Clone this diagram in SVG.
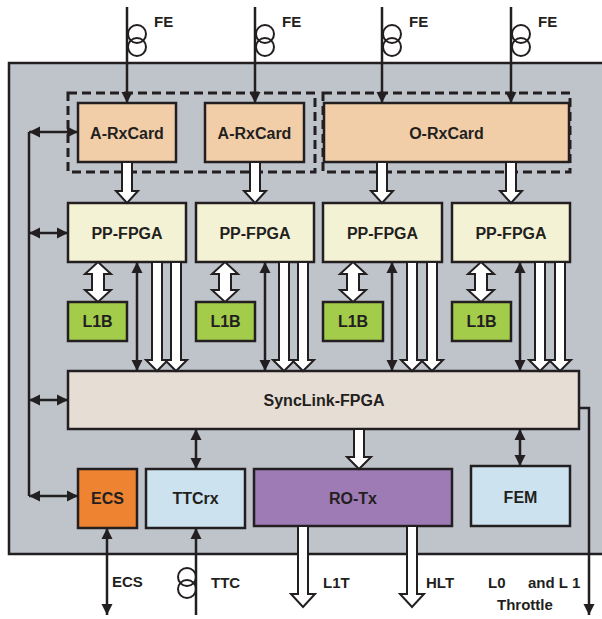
<svg xmlns="http://www.w3.org/2000/svg" width="602" height="619" viewBox="0 0 602 619">
<style>
.box{stroke:#231f20;stroke-width:2.5}
.t{font-family:"Liberation Sans",Arial,sans-serif;font-weight:bold;font-size:16px;fill:#231f20;text-anchor:middle}
.lbl{font-family:"Liberation Sans",Arial,sans-serif;font-weight:bold;font-size:15px;fill:#231f20}
.ln{stroke:#231f20;stroke-width:2.5;fill:none}
.hol{fill:#fff;stroke:#231f20;stroke-width:2;stroke-linejoin:miter}
.coil{fill:none;stroke:#231f20;stroke-width:2}
.dash{fill:none;stroke:#231f20;stroke-width:3;stroke-dasharray:9 5}
</style>
<defs>
<marker id="ah" markerUnits="userSpaceOnUse" markerWidth="12" markerHeight="12" refX="11" refY="6" orient="auto-start-reverse">
<path d="M0,0.5 L11,6 L0,11.5 z" fill="#231f20"/>
</marker>
</defs>
<rect x="9" y="63" width="600" height="491" fill="#bfc4cb" stroke="#231f20" stroke-width="2.5"/>
<rect class="dash" x="68" y="93" width="247" height="79"/>
<rect class="dash" x="323" y="93" width="247" height="79"/>

<g id="arx1"><rect class="box" x="78" y="103" width="98" height="59" fill="#f2cea8"/><text class="t" x="127" y="139">A-RxCard</text></g>
<g id="arx2"><rect class="box" x="205" y="103" width="99" height="59" fill="#f2cea8"/><text class="t" x="254.5" y="139">A-RxCard</text></g>
<g id="orx"><rect class="box" x="324" y="103" width="245" height="59" fill="#f2cea8"/><text class="t" x="446.5" y="139">O-RxCard</text></g>

<g id="pp1"><rect class="box" x="68" y="203" width="118" height="59" fill="#f4f2d4"/><text class="t" x="127" y="239">PP-FPGA</text></g>
<g id="pp2"><rect class="box" x="196" y="203" width="118" height="59" fill="#f4f2d4"/><text class="t" x="255" y="239">PP-FPGA</text></g>
<g id="pp3"><rect class="box" x="323" y="203" width="119" height="59" fill="#f4f2d4"/><text class="t" x="382.5" y="239">PP-FPGA</text></g>
<g id="pp4"><rect class="box" x="452" y="203" width="118" height="59" fill="#f4f2d4"/><text class="t" x="511" y="239">PP-FPGA</text></g>

<g id="l1b1"><rect class="box" x="68" y="302" width="59" height="39" fill="#a3cc4b"/><text class="t" x="97.5" y="327">L1B</text></g>
<g id="l1b2"><rect class="box" x="196" y="302" width="59" height="39" fill="#a3cc4b"/><text class="t" x="225.5" y="327">L1B</text></g>
<g id="l1b3"><rect class="box" x="323" y="302" width="60" height="39" fill="#a3cc4b"/><text class="t" x="353" y="327">L1B</text></g>
<g id="l1b4"><rect class="box" x="452" y="302" width="59" height="39" fill="#a3cc4b"/><text class="t" x="481.5" y="327">L1B</text></g>

<g id="sync"><rect class="box" x="68" y="371" width="511" height="58" fill="#e6ddd4"/><text class="t" x="324" y="406">SyncLink-FPGA</text></g>

<g id="ecs"><rect class="box" x="78" y="469" width="59" height="59" fill="#ee8431"/><text class="t" x="107.5" y="504">ECS</text></g>
<g id="ttcrx"><rect class="box" x="146" y="469" width="99" height="59" fill="#cce2ef"/><text class="t" x="195.5" y="504">TTCrx</text></g>
<g id="rotx"><rect class="box" x="254" y="469" width="198" height="57" fill="#9e7bb5"/><text class="t" x="353" y="504">RO-Tx</text></g>
<g id="fem"><rect class="box" x="471" y="466" width="99" height="60" fill="#cce2ef"/><text class="t" x="520.5" y="503">FEM</text></g>

<g id="connectors">
<!-- FE inputs -->
<line class="ln" x1="127" y1="7" x2="127" y2="103" marker-end="url(#ah)"/>
<line class="ln" x1="255" y1="7" x2="255" y2="103" marker-end="url(#ah)"/>
<line class="ln" x1="382" y1="7" x2="382" y2="103" marker-end="url(#ah)"/>
<line class="ln" x1="511" y1="7" x2="511" y2="103" marker-end="url(#ah)"/>
<circle class="coil" cx="137" cy="34" r="9"/><circle class="coil" cx="137" cy="47" r="9"/>
<circle class="coil" cx="265" cy="34" r="9"/><circle class="coil" cx="265" cy="47" r="9"/>
<circle class="coil" cx="392" cy="34" r="9"/><circle class="coil" cx="392" cy="47" r="9"/>
<circle class="coil" cx="521" cy="34" r="9"/><circle class="coil" cx="521" cy="47" r="9"/>
<text class="lbl" x="154" y="27">FE</text>
<text class="lbl" x="282" y="27">FE</text>
<text class="lbl" x="409" y="27">FE</text>
<text class="lbl" x="538" y="27">FE</text>

<!-- Rx -> PP hollow -->
<polygon class="hol" points="122,162 132,162 132,191 138,191 127,203 116,191 122,191"/>
<polygon class="hol" points="250,162 260,162 260,191 266,191 255,203 244,191 250,191"/>
<polygon class="hol" points="377,162 387,162 387,191 393,191 382,203 371,191 377,191"/>
<polygon class="hol" points="506,162 516,162 516,191 522,191 511,203 500,191 506,191"/>

<!-- PP <-> L1B -->
<polygon class="hol" points="98,262 111,274 104,274 104,290 111,290 98,302 85,290 92,290 92,274 85,274"/>
<polygon class="hol" points="225,262 238,274 231,274 231,290 238,290 225,302 212,290 219,290 219,274 212,274"/>
<polygon class="hol" points="353,262 366,274 359,274 359,290 366,290 353,302 340,290 347,290 347,274 340,274"/>
<polygon class="hol" points="481,262 494,274 487,274 487,290 494,290 481,302 468,290 475,290 475,274 468,274"/>

<!-- PP -> SyncLink hollow -->
<polygon class="hol" points="152,262 162,262 162,360 168,360 157,371 146,360 152,360"/>
<polygon class="hol" points="171,262 181,262 181,360 187,360 176,371 165,360 171,360"/>
<polygon class="hol" points="279,262 289,262 289,360 295,360 284,371 273,360 279,360"/>
<polygon class="hol" points="298,262 308,262 308,360 314,360 303,371 292,360 298,360"/>
<polygon class="hol" points="407,262 417,262 417,360 423,360 412,371 401,360 407,360"/>
<polygon class="hol" points="427,262 437,262 437,360 443,360 432,371 421,360 427,360"/>
<polygon class="hol" points="535,262 545,262 545,360 551,360 540,371 529,360 535,360"/>
<polygon class="hol" points="555,262 565,262 565,360 571,360 560,371 549,360 555,360"/>

<!-- PP <-> SyncLink thin -->
<line class="ln" x1="137" y1="262" x2="137" y2="371" marker-start="url(#ah)" marker-end="url(#ah)"/>
<line class="ln" x1="265" y1="262" x2="265" y2="371" marker-start="url(#ah)" marker-end="url(#ah)"/>
<line class="ln" x1="392" y1="262" x2="392" y2="371" marker-start="url(#ah)" marker-end="url(#ah)"/>
<line class="ln" x1="520" y1="262" x2="520" y2="371" marker-start="url(#ah)" marker-end="url(#ah)"/>

<!-- left control bus -->
<line class="ln" x1="29" y1="132" x2="29" y2="496"/>
<line class="ln" x1="29" y1="132" x2="78" y2="132" marker-start="url(#ah)" marker-end="url(#ah)"/>
<line class="ln" x1="29" y1="233" x2="68" y2="233" marker-start="url(#ah)" marker-end="url(#ah)"/>
<line class="ln" x1="29" y1="400" x2="68" y2="400" marker-start="url(#ah)" marker-end="url(#ah)"/>
<line class="ln" x1="29" y1="496" x2="78" y2="496" marker-start="url(#ah)" marker-end="url(#ah)"/>

<!-- SyncLink to bottom row -->
<line class="ln" x1="196" y1="429" x2="196" y2="469" marker-start="url(#ah)" marker-end="url(#ah)"/>
<line class="ln" x1="520" y1="429" x2="520" y2="466" marker-start="url(#ah)" marker-end="url(#ah)"/>
<polygon class="hol" points="354,429 364,429 364,457 371,457 359,469 347,457 354,457"/>

<!-- throttle -->
<polyline class="ln" points="579,408 589,408 589,615" marker-end="url(#ah)"/>

<!-- outputs -->
<polygon class="hol" points="298,526 308,526 308,594 315,594 303,607 291,594 298,594"/>
<polygon class="hol" points="407,526 417,526 417,594 424,594 412,607 400,594 407,594"/>
<line class="ln" x1="107" y1="528" x2="107" y2="615" marker-start="url(#ah)" marker-end="url(#ah)"/>
<line class="ln" x1="196" y1="615" x2="196" y2="528" marker-end="url(#ah)"/>
<circle class="coil" cx="187" cy="577" r="9"/><circle class="coil" cx="187" cy="589" r="9"/>

<text class="lbl" x="112" y="587">ECS</text>
<text class="lbl" x="211" y="588">TTC</text>
<text class="lbl" x="323" y="588">L1T</text>
<text class="lbl" x="426" y="588">HLT</text>
<text class="lbl" x="488" y="588">L0</text>
<text class="lbl" x="528" y="588">and L 1</text>
<text class="lbl" x="497" y="610">Throttle</text>
</g>
</svg>
